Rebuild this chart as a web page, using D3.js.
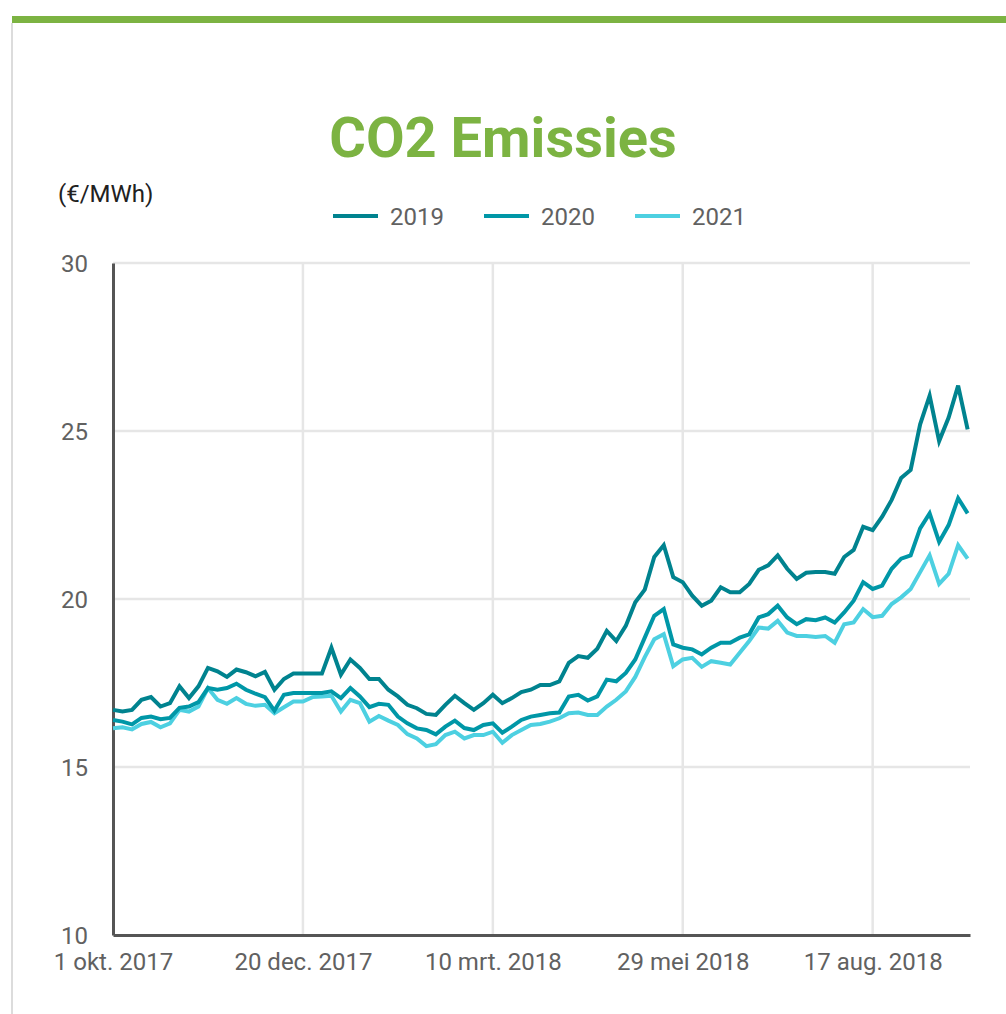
<!DOCTYPE html>
<html>
<head>
<meta charset="utf-8">
<script src="https://cdn.jsdelivr.net/npm/d3@7"></script>
<style>
	body { margin: 0; background: #fff; }
	text { font-family: Roboto, "Noto Sans", sans-serif; }
</style>
</head>
<body>
<div id="chart"></div>
<script>
// data: one sample every 4 days from 1 okt. 2017
const start = new Date(Date.UTC(2017, 9, 1));
const stepDays = 4;

const v2019 = [16.7, 16.65, 16.7, 17.0, 17.08, 16.8, 16.9, 17.4, 17.05, 17.4,
	17.95, 17.85, 17.68, 17.9, 17.82, 17.7, 17.83, 17.3, 17.62, 17.78,
	17.78, 17.78, 17.78, 18.55, 17.75, 18.2, 17.95, 17.62, 17.62, 17.3,
	17.1, 16.85, 16.75, 16.58, 16.55, 16.85, 17.12, 16.9, 16.7, 16.9,
	17.15, 16.9, 17.05, 17.23, 17.3, 17.44, 17.44, 17.55, 18.1, 18.3,
	18.25, 18.52, 19.05, 18.75, 19.2, 19.9, 20.28, 21.25, 21.6, 20.65,
	20.5, 20.1, 19.8, 19.95, 20.35, 20.2, 20.2, 20.45, 20.87, 21.0,
	21.3, 20.9, 20.6, 20.78, 20.8, 20.8, 20.75, 21.25, 21.46, 22.15,
	22.05, 22.45, 22.95, 23.6, 23.84, 25.2, 26.05, 24.7, 25.4, 26.35, 25.05];

const v2020 = [16.4, 16.35, 16.27, 16.46, 16.5, 16.42, 16.46, 16.76, 16.8, 16.93,
	17.35, 17.3, 17.35, 17.48, 17.3, 17.18, 17.08, 16.68, 17.15, 17.2,
	17.2, 17.2, 17.2, 17.25, 17.05, 17.35, 17.1, 16.78, 16.88, 16.85,
	16.5, 16.3, 16.15, 16.1, 15.97, 16.2, 16.38, 16.16, 16.1, 16.25,
	16.3, 16.02, 16.2, 16.4, 16.5, 16.55, 16.6, 16.62, 17.1, 17.15,
	16.98, 17.1, 17.6, 17.55, 17.8, 18.2, 18.85, 19.5, 19.7, 18.65,
	18.55, 18.5, 18.35, 18.55, 18.7, 18.7, 18.85, 18.95, 19.45, 19.55,
	19.8, 19.45, 19.25, 19.4, 19.37, 19.45, 19.3, 19.6, 19.95, 20.5,
	20.3, 20.4, 20.9, 21.2, 21.3, 22.1, 22.55, 21.7, 22.2, 23.0, 22.55];

const v2021 = [16.15, 16.18, 16.12, 16.28, 16.34, 16.18, 16.3, 16.7, 16.65, 16.8,
	17.35, 17.0, 16.88, 17.05, 16.88, 16.82, 16.85, 16.6, 16.78, 16.95,
	16.95, 17.08, 17.1, 17.12, 16.65, 17.0, 16.9, 16.35, 16.52, 16.38,
	16.25, 15.98, 15.85, 15.62, 15.68, 15.95, 16.05, 15.85, 15.95, 15.95,
	16.05, 15.72, 15.95, 16.1, 16.25, 16.28, 16.35, 16.45, 16.6, 16.62,
	16.55, 16.55, 16.8, 17.0, 17.25, 17.68, 18.27, 18.8, 18.95, 18.0,
	18.2, 18.25, 17.98, 18.15, 18.1, 18.05, 18.4, 18.75, 19.15, 19.12,
	19.35, 19.0, 18.9, 18.9, 18.87, 18.9, 18.7, 19.25, 19.3, 19.7,
	19.46, 19.5, 19.85, 20.05, 20.3, 20.8, 21.3, 20.45, 20.75, 21.6, 21.2];

const seriesNames = ['2019', '2020', '2021'];
const seriesColors = ['#00838f', '#0097a7', '#4dd0e1'];

const tickDates = ['2017-10-01', '2017-12-20', '2018-03-10', '2018-05-29', '2018-08-17'];
const tickLabels = ['1 okt. 2017', '20 dec. 2017', '10 mrt. 2018', '29 mei 2018', '17 aug. 2018'];
const yTicks = [10, 15, 20, 25, 30];

const title = 'CO2 Emissies';
const unit = '(€/MWh)';

const width = 1006, height = 1014;
const plot = { left: 113, right: 970, top: 263, bottom: 935 };

const dates = v2019.map((v, i) => d3.utcDay.offset(start, i * stepDays));
const series = [v2019, v2020, v2021].map((vals, k) => ({
	name: seriesNames[k],
	color: seriesColors[k],
	points: vals.map((v, i) => ({ date: dates[i], value: v })),
}));

const x = d3.scaleUtc()
	.domain([start, new Date(Date.UTC(2018, 8, 27))])
	.range([plot.left, plot.right]);
const y = d3.scaleLinear().domain([10, 30]).range([plot.bottom, plot.top]);

const svg = d3.select('#chart').append('svg')
	.attr('width', width).attr('height', height);

// card frame
svg.append('rect').attr('x', 12).attr('y', 16).attr('width', width - 12).attr('height', 7)
	.attr('fill', '#7cb342');
svg.append('line').attr('x1', 12).attr('x2', 12).attr('y1', 23).attr('y2', height)
	.attr('stroke', '#dcdcdc').attr('stroke-width', 2);

svg.append('text').attr('x', 503).attr('y', 157).attr('text-anchor', 'middle')
	.attr('font-size', 56).attr('font-weight', 700).attr('fill', '#7cb342')
	.text(title);

svg.append('text').attr('x', 58).attr('y', 202)
	.attr('font-size', 24).attr('fill', '#212121').text(unit);

// legend
const legend = svg.append('g').selectAll('g').data(series).join('g')
	.attr('transform', (d, i) => `translate(${333 + i * 151}, 216)`);
legend.append('line').attr('x1', 0).attr('x2', 45)
	.attr('stroke', d => d.color).attr('stroke-width', 4);
legend.append('text').attr('x', 57).attr('y', 9)
	.attr('font-size', 24).attr('fill', '#616161').text(d => d.name);

// grid
const grid = svg.append('g');
grid.selectAll('.hgrid').data(yTicks.filter(t => t > 10)).join('line')
	.attr('x1', plot.left).attr('x2', plot.right)
	.attr('y1', d => y(d)).attr('y2', d => y(d))
	.attr('stroke', '#e6e6e6').attr('stroke-width', 2.5);
grid.selectAll('.vgrid').data(tickDates.slice(1)).join('line')
	.attr('x1', d => x(new Date(d))).attr('x2', d => x(new Date(d)))
	.attr('y1', plot.top).attr('y2', plot.bottom)
	.attr('stroke', '#e6e6e6').attr('stroke-width', 2.5);

// axes
const axisY = svg.append('g').attr('transform', `translate(${plot.left},0)`)
	.call(d3.axisLeft(y).tickValues(yTicks).tickSize(0).tickPadding(25));
const axisX = svg.append('g').attr('transform', `translate(0,${plot.bottom})`)
	.call(d3.axisBottom(x).tickValues(tickDates.map(d => new Date(d)))
		.tickFormat((d, i) => tickLabels[i]).tickSize(0).tickPadding(18));
[axisY, axisX].forEach(a => {
	a.select('.domain').attr('stroke', '#555').attr('stroke-width', 3);
	a.selectAll('text').attr('font-size', 24).attr('fill', '#616161')
		.attr('font-family', 'Roboto, sans-serif');
});
axisY.selectAll('text').attr('dy', '0.35em');

// lines
const line = d3.line()
	.x(d => x(d.date))
	.y(d => y(d.value));

svg.append('g').selectAll('path').data(series.slice().reverse()).join('path')
	.attr('d', d => line(d.points))
	.attr('fill', 'none')
	.attr('stroke', d => d.color)
	.attr('stroke-width', 4)
	.attr('stroke-linejoin', 'miter');
</script>
</body>
</html>
